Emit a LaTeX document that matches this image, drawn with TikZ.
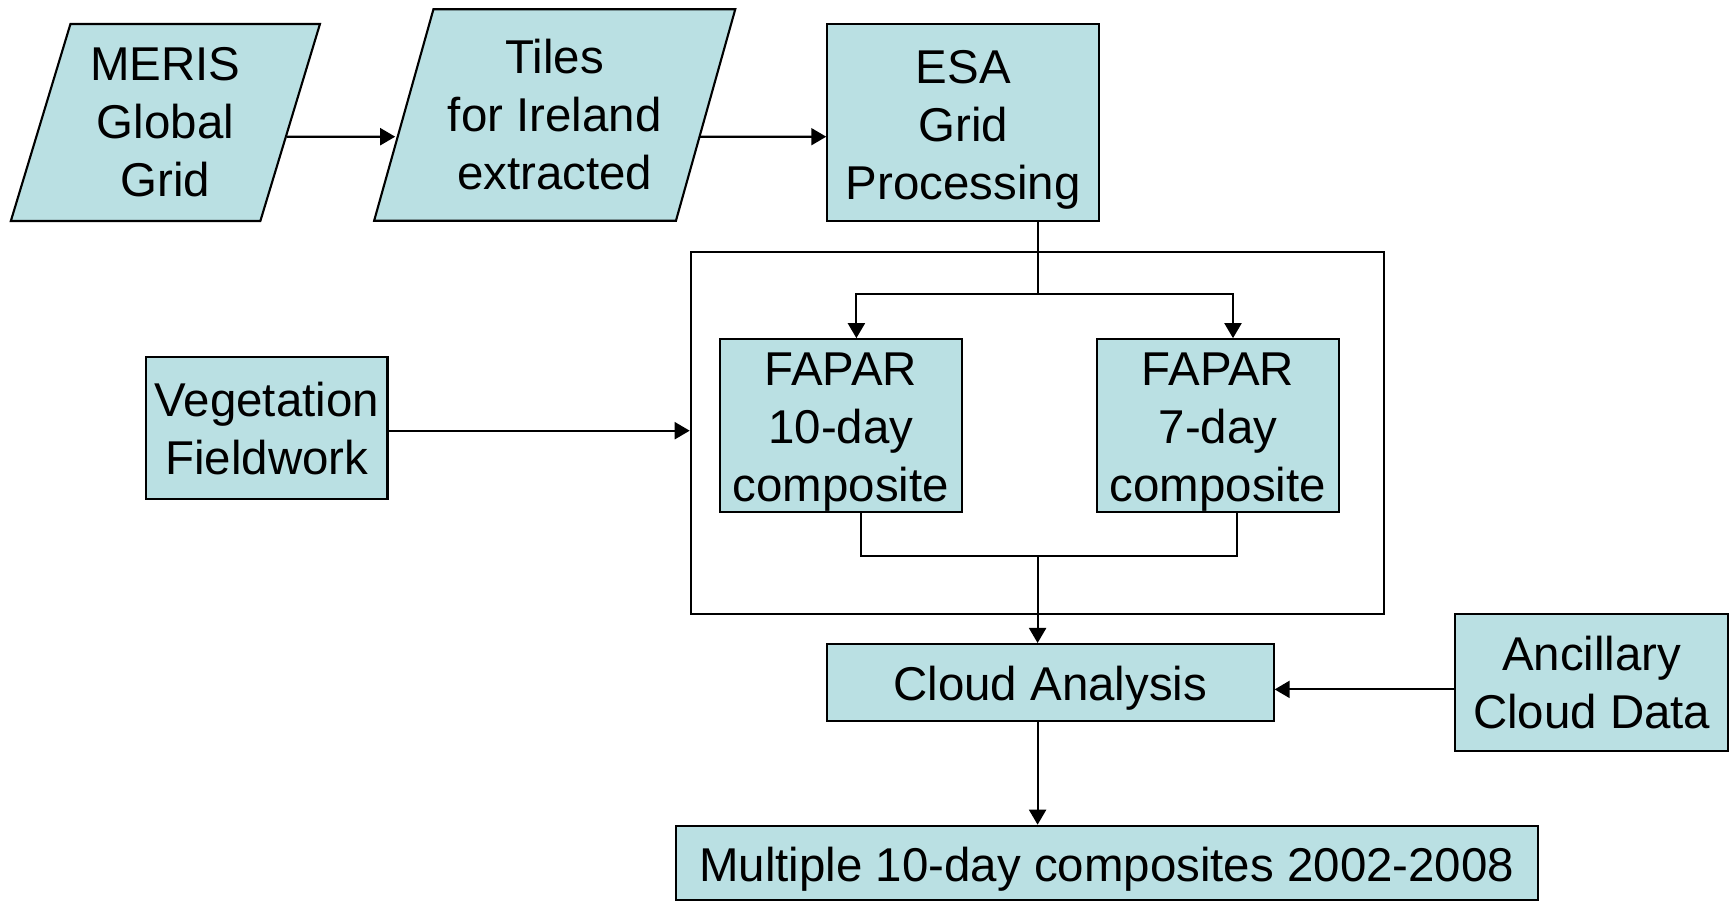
\documentclass[tikz,border=0pt]{standalone}
\usepackage{fontspec}
\setmainfont{Liberation Sans}
\usetikzlibrary{arrows.meta,shapes.geometric,calc}
\definecolor{boxfill}{RGB}{186,224,227}
\newcommand{\lowstrut}{\rule{0pt}{13.3pt}}

\begin{document}
\begin{tikzpicture}[->,>={Triangle[length=1.5mm,width=1.7mm]},line width=0.6pt,
                    main node/.style={draw,fill=boxfill,rectangle,inner sep=0pt,align=center,
                                      line width=0.6pt,font=\fontsize{13.5}{16.5}\selectfont},
                    slant node/.style={main node,trapezium,trapezium stretches=true}]

  \useasboundingbox (0,0) rectangle (17.34,-9.01);

  \node[slant node, trapezium left angle=72.5, trapezium right angle=107.5,
        minimum width=3.107cm, minimum height=1.97cm] (mer) at (1.654,-1.225) {MERIS\\Global\\Grid};
  \node[slant node, trapezium left angle=70.9, trapezium right angle=109.1,
        minimum width=3.627cm, minimum height=2.114cm] (til) at (5.547,-1.15) {Tiles\\for Ireland\\extracted};
  \node[main node, minimum width=2.72cm, minimum height=1.97cm] (esa) at (9.633,-1.228) {\lowstrut ESA\\Grid\\Processing};

  \node[draw,-,line width=0.6pt,minimum width=6.933cm,minimum height=3.626cm,inner sep=0pt] (grp) at (10.374,-4.33) {};
  \node[main node, minimum width=2.423cm, minimum height=1.676cm] (fap1) at (8.409,-4.255) {\lowstrut FAPAR\\10-day\\composite};
  \node[main node, minimum width=2.42cm, minimum height=1.676cm] (fap2) at (12.18,-4.255) {\lowstrut FAPAR\\7-day\\composite};

  \node[main node, minimum width=2.415cm, minimum height=1.417cm] (veg) at (2.668,-4.282) {Vegetation\\Fieldwork};
  \node[main node, minimum width=4.466cm, minimum height=0.767cm] (cld) at (10.503,-6.824) {\lowstrut Cloud Analysis};
  \node[main node, minimum width=2.733cm, minimum height=1.367cm] (anc) at (15.917,-6.824) {Ancillary\\Cloud Data};
  \node[main node, minimum width=8.624cm, minimum height=0.743cm] (mul) at (11.068,-8.629) {\lowstrut Multiple 10-day composites 2002-2008};

  \coordinate (split) at (10.376,-2.94);
  \coordinate (join) at (10.376,-5.56);

  \draw ($(mer.east)+(-0.045,-0.142)$) -- ($(til.west)+(-0.075,-0.217)$);
  \draw ($(til.east)+(-0.076,-0.217)$) -- ($(esa.west)+(0,-0.139)$);
  \draw[-] (esa.south -| split) -- (split);
  \draw (split) -| ([xshift=1.55mm]fap1.north);
  \draw (split) -| ([xshift=1.5mm]fap2.north);
  \draw[-] ([xshift=2mm]fap1.south) |- (join) -| ([xshift=1.86mm]fap2.south);
  \draw (join) -- (cld.north -| join);
  \draw ([yshift=-0.25mm]veg.east) -- ([yshift=-0.25mm]veg.east -| grp.west);
  \draw ([yshift=-0.7mm]anc.west) -- ([yshift=-0.7mm]anc.west -| cld.east);
  \draw (cld.south -| join) -- (mul.north -| join);
\end{tikzpicture}
\end{document}
